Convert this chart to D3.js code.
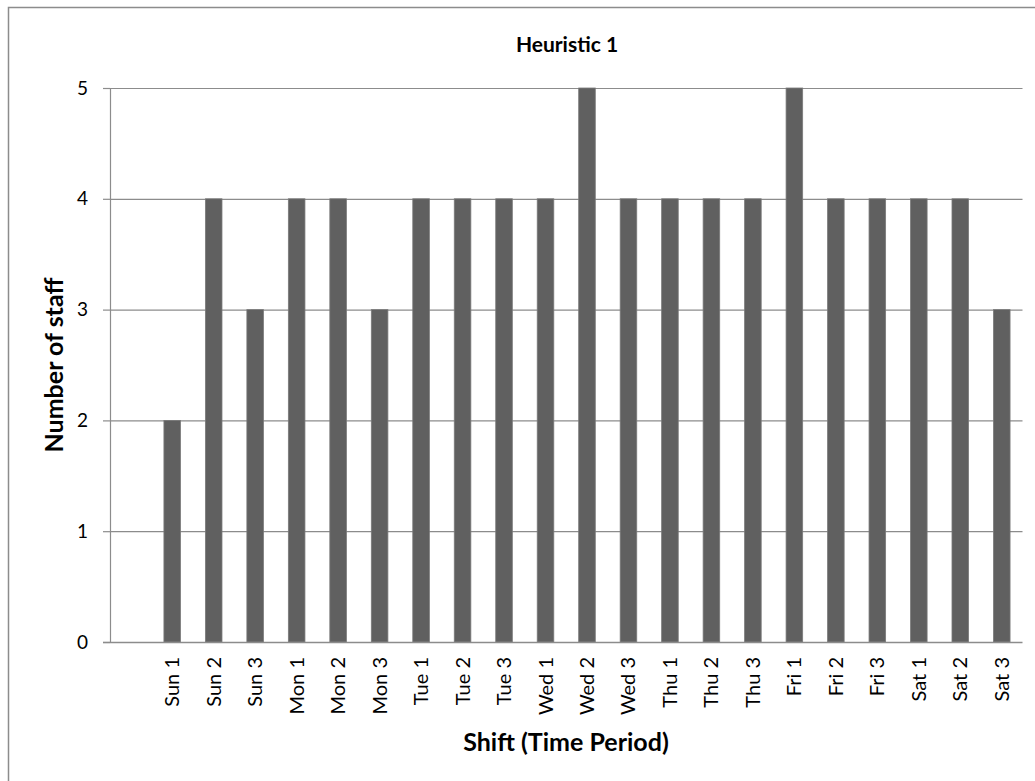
<!DOCTYPE html>
<html><head><meta charset="utf-8">
<script src="https://cdn.jsdelivr.net/npm/d3@7"></script>
<style>body{margin:0;background:#fff}svg{display:block}text{font-family:Lato,"Open Sans",sans-serif}</style>
</head><body><svg id="c" width="1035" height="781"></svg>
<script>
const categories = ["", "Sun 1","Sun 2","Sun 3","Mon 1","Mon 2","Mon 3","Tue 1","Tue 2","Tue 3","Wed 1","Wed 2","Wed 3","Thu 1","Thu 2","Thu 3","Fri 1","Fri 2","Fri 3","Sat 1","Sat 2","Sat 3"];
const values = [null, 2,4,3,4,4,3,4,4,4,4,5,4,4,4,4,5,4,4,4,4,3];
const yTicks = [0,1,2,3,4,5];
const title = "Heuristic 1";
const xTitle = "Shift (Time Period)";
const yTitle = "Number of staff";

const svg = d3.select("#c");
svg.append("rect").attr("x",8.5).attr("y",7.5).attr("width",1040).attr("height",790)
  .attr("fill","#fff").attr("stroke","#8c8c8c").attr("stroke-width",1.5);

const L=110, R=1022.5, T=88, B=642;
const x = d3.scaleBand().domain(categories).range([L,R]).paddingInner(0.6).paddingOuter(0.3);
const y = d3.scaleLinear().domain([0,5]).range([B,T]);

svg.append("g").selectAll("line").data(yTicks.filter(d=>d>0)).join("line")
  .attr("x1",L).attr("x2",R).attr("y1",d=>y(d)+0.5).attr("y2",d=>y(d)+0.5)
  .attr("stroke","#8c8c8c").attr("stroke-width",1.2);

svg.append("g").selectAll("rect").data(categories.map((c,i)=>({c,v:values[i]})).filter(d=>d.v!=null)).join("rect")
  .attr("x",d=>x(d.c)).attr("width",x.bandwidth())
  .attr("y",d=>y(d.v)).attr("height",d=>B-y(d.v))
  .attr("fill","#606060").attr("stroke","#7a7a7a").attr("stroke-width",0.8);

const ya = svg.append("g").attr("transform",`translate(${L},0)`)
  .call(d3.axisLeft(y).tickValues(yTicks).tickSize(7).tickPadding(15).tickFormat(d3.format("d")));
ya.select(".domain").attr("stroke","#8c8c8c").attr("stroke-width",1.2).attr("d",`M0.5,${T}V${B}`);
ya.selectAll(".tick line").attr("stroke","#8c8c8c").attr("stroke-width",1.2);
ya.selectAll(".tick text").attr("font-size",19).attr("fill","#000").style("font-family","Lato,'Open Sans',sans-serif");

const xa = svg.append("g").attr("transform",`translate(0,${B})`)
  .call(d3.axisBottom(x).tickSize(0).tickPadding(0));
xa.select(".domain").attr("stroke","#8c8c8c").attr("stroke-width",1.5).attr("d",`M${L-7},0.5H${R}`);
xa.selectAll(".tick text").attr("font-size",20).attr("fill","#000")
  .style("font-family","Lato,'Open Sans',sans-serif")
  .attr("transform","rotate(-90)").attr("text-anchor","end")
  .attr("x",-15).attr("y",0).attr("dy","0.35em");

svg.append("text").attr("x",567).attr("y",52).attr("text-anchor","middle")
  .attr("font-size",21).attr("font-weight","bold").text(title);
svg.append("text").attr("x",566).attr("y",751).attr("text-anchor","middle")
  .attr("font-size",25).attr("font-weight","bold").text(xTitle);
svg.append("text").attr("transform","translate(63,365) rotate(-90)").attr("text-anchor","middle")
  .attr("font-size",25).attr("font-weight","bold").text(yTitle);
</script></body></html>
